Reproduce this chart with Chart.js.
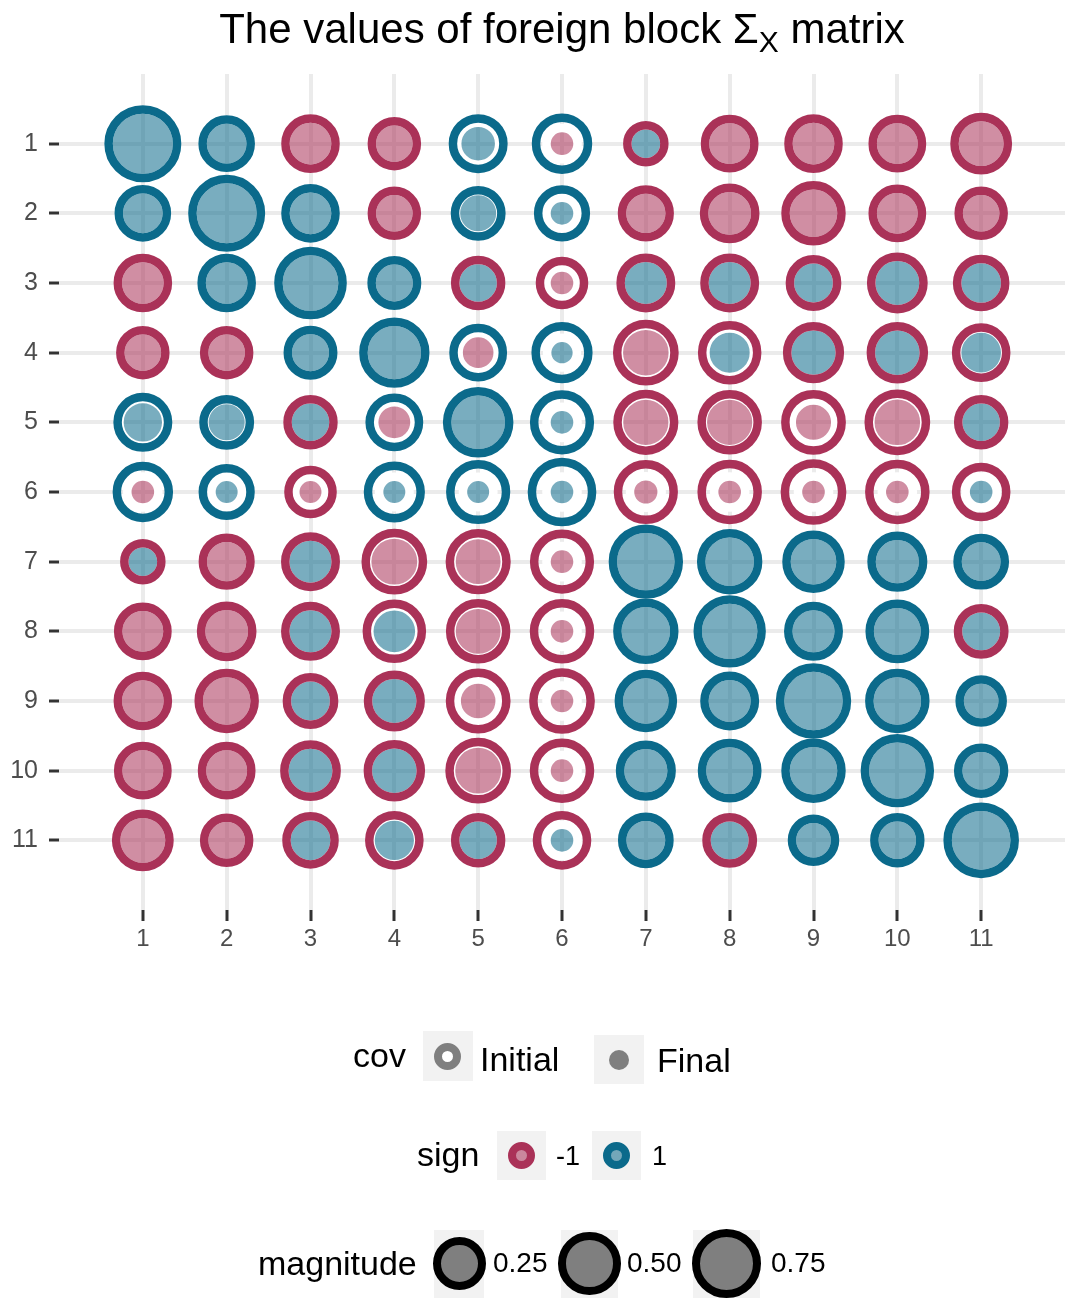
<!DOCTYPE html>
<html>
<head>
<meta charset="utf-8">
<title>Foreign block covariance</title>
<script src="https://cdn.jsdelivr.net/npm/chart.js@4.4.1/dist/chart.umd.min.js"></script>
<style>
  html, body { margin: 0; padding: 0; background: #ffffff; }
  body { width: 1065px; height: 1304px; position: relative; overflow: hidden;
         font-family: 'Liberation Sans', Arial, sans-serif; }
  #plot { position: absolute; left: 0; top: 0; }
  .txt { position: absolute; white-space: nowrap; line-height: 1; color: #000; }
  #title { position: absolute; left: 59px; width: 1006px; top: 8px; text-align: center;
           font-size: 42px; line-height: 42px; color: #000; }
  #title .sub { font-size: 30px; position: relative; top: 9px; }
  .key { position: absolute; background: #f2f2f2; }
  .dot { position: absolute; border-radius: 50%; box-sizing: border-box; }
</style>
</head>
<body>
<canvas id="plot" width="1065" height="1304"></canvas>
<div id="title">The values of foreign block Σ<span class="sub">X</span> matrix</div>
<div id="legend"></div>
<script>
// Row / column labels of the 11 x 11 block
const rowLabels = ['1', '2', '3', '4', '5', '6', '7', '8', '9', '10', '11'];
const colLabels = ['1', '2', '3', '4', '5', '6', '7', '8', '9', '10', '11'];

// Initial covariance: magnitude and sign
const initialMagnitude = [
  [1.00, 0.31, 0.36, 0.24, 0.37, 0.41, 0.10, 0.34, 0.36, 0.34, 0.45],
  [0.31, 1.00, 0.36, 0.24, 0.27, 0.30, 0.30, 0.39, 0.53, 0.34, 0.24],
  [0.36, 0.36, 0.82, 0.25, 0.26, 0.22, 0.37, 0.37, 0.29, 0.42, 0.31],
  [0.24, 0.24, 0.25, 0.73, 0.34, 0.43, 0.57, 0.50, 0.43, 0.44, 0.36],
  [0.37, 0.27, 0.26, 0.34, 0.74, 0.52, 0.55, 0.53, 0.54, 0.57, 0.26],
  [0.41, 0.30, 0.22, 0.43, 0.52, 0.67, 0.52, 0.53, 0.57, 0.53, 0.36],
  [0.10, 0.30, 0.37, 0.57, 0.55, 0.52, 0.89, 0.56, 0.47, 0.40, 0.29],
  [0.34, 0.39, 0.37, 0.50, 0.53, 0.53, 0.56, 0.81, 0.37, 0.51, 0.27],
  [0.36, 0.53, 0.29, 0.43, 0.54, 0.57, 0.47, 0.37, 0.93, 0.53, 0.20],
  [0.34, 0.34, 0.42, 0.44, 0.57, 0.53, 0.40, 0.51, 0.53, 0.85, 0.26],
  [0.45, 0.24, 0.31, 0.36, 0.26, 0.36, 0.29, 0.27, 0.20, 0.26, 0.94]
];
const initialSign = [
  [ 1,  1, -1, -1,  1,  1, -1, -1, -1, -1, -1],
  [ 1,  1,  1, -1,  1,  1, -1, -1, -1, -1, -1],
  [-1,  1,  1,  1, -1, -1, -1, -1, -1, -1, -1],
  [-1, -1,  1,  1,  1,  1, -1, -1, -1, -1, -1],
  [ 1,  1, -1,  1,  1,  1, -1, -1, -1, -1, -1],
  [ 1,  1, -1,  1,  1,  1, -1, -1, -1, -1, -1],
  [-1, -1, -1, -1, -1, -1,  1,  1,  1,  1,  1],
  [-1, -1, -1, -1, -1, -1,  1,  1,  1,  1, -1],
  [-1, -1, -1, -1, -1, -1,  1,  1,  1,  1,  1],
  [-1, -1, -1, -1, -1, -1,  1,  1,  1,  1,  1],
  [-1, -1, -1, -1, -1, -1,  1, -1,  1,  1,  1]
];

// Final covariance: magnitude and sign
const finalMagnitude = [
  [1.00, 0.31, 0.36, 0.24, 0.18, 0.035, 0.10, 0.34, 0.36, 0.34, 0.45],
  [0.31, 1.00, 0.36, 0.24, 0.23, 0.035, 0.30, 0.39, 0.53, 0.34, 0.24],
  [0.36, 0.36, 0.82, 0.25, 0.26, 0.035, 0.37, 0.37, 0.29, 0.42, 0.31],
  [0.24, 0.24, 0.25, 0.73, 0.13, 0.025, 0.47, 0.32, 0.43, 0.44, 0.31],
  [0.28, 0.23, 0.26, 0.15, 0.74, 0.035, 0.46, 0.46, 0.21, 0.47, 0.26],
  [0.035, 0.03, 0.03, 0.03, 0.03, 0.035, 0.04, 0.035, 0.035, 0.035, 0.035],
  [0.10, 0.30, 0.37, 0.48, 0.45, 0.035, 0.89, 0.56, 0.47, 0.40, 0.29],
  [0.34, 0.39, 0.37, 0.36, 0.45, 0.035, 0.56, 0.81, 0.37, 0.51, 0.27],
  [0.36, 0.53, 0.29, 0.43, 0.20, 0.035, 0.47, 0.37, 0.93, 0.53, 0.20],
  [0.34, 0.34, 0.42, 0.44, 0.48, 0.035, 0.40, 0.51, 0.53, 0.85, 0.26],
  [0.45, 0.24, 0.31, 0.30, 0.26, 0.035, 0.29, 0.27, 0.20, 0.26, 0.94]
];
const finalSign = [
  [ 1,  1, -1, -1,  1, -1,  1, -1, -1, -1, -1],
  [ 1,  1,  1, -1,  1,  1, -1, -1, -1, -1, -1],
  [-1,  1,  1,  1,  1, -1,  1,  1,  1,  1,  1],
  [-1, -1,  1,  1, -1,  1, -1,  1,  1,  1,  1],
  [ 1,  1,  1, -1,  1,  1, -1, -1, -1, -1,  1],
  [-1,  1, -1,  1,  1,  1, -1, -1, -1, -1,  1],
  [ 1, -1,  1, -1, -1, -1,  1,  1,  1,  1,  1],
  [-1, -1,  1,  1, -1, -1,  1,  1,  1,  1,  1],
  [-1, -1,  1,  1, -1, -1,  1,  1,  1,  1,  1],
  [-1, -1,  1,  1, -1, -1,  1,  1,  1,  1,  1],
  [-1, -1,  1,  1,  1,  1,  1,  1,  1,  1,  1]
];

// Legend entries
const covLevels = ['Initial', 'Final'];
const signLevels = [-1, 1];
const magnitudeBreaks = [0.25, 0.50, 0.75];

// Styling
const FONT = "'Liberation Sans', Arial, sans-serif";
const COLORS = { '-1': '#aa3258', '1': '#0b6a8b' };
const FILLS = { '-1': 'rgba(170, 50, 88, 0.55)', '1': 'rgba(11, 106, 139, 0.55)' };
const STROKE = 8.5;

// Magnitude -> inner disc diameter (square-root scale), then bubble radius
const discDiameter = m => 14 + 46 * Math.sqrt(m);
const bubbleRadius = m => (discDiameter(m) + STROKE) / 2;

const ringPoints = [];
const finalPoints = [];
rowLabels.forEach((_, i) => {
  colLabels.forEach((_, j) => {
    ringPoints.push({ x: j + 1, y: i + 1, r: bubbleRadius(initialMagnitude[i][j]), sign: initialSign[i][j] });
    finalPoints.push({ x: j + 1, y: i + 1, r: bubbleRadius(finalMagnitude[i][j]), sign: finalSign[i][j] });
  });
});

Chart.defaults.font.family = FONT;

new Chart(document.getElementById('plot'), {
  type: 'bubble',
  data: {
    datasets: [
      {
        // rings: initial value, drawn on top
        label: 'Initial',
        order: 0,
        data: ringPoints,
        backgroundColor: 'rgba(0,0,0,0)',
        borderColor: ctx => COLORS[String(ctx.raw.sign)],
        borderWidth: STROKE,
        clip: false
      },
      {
        // translucent discs with a white halo: final value, drawn underneath
        label: 'Final',
        order: 1,
        data: finalPoints,
        backgroundColor: ctx => FILLS[String(ctx.raw.sign)],
        borderColor: '#ffffff',
        borderWidth: STROKE,
        clip: false
      }
    ]
  },
  options: {
    responsive: false,
    devicePixelRatio: 1,
    animation: false,
    events: [],
    layout: { autoPadding: false, padding: { top: 74, right: 0, bottom: 354, left: 0 } },
    plugins: { legend: { display: false }, tooltip: { enabled: false }, title: { display: false } },
    scales: {
      x: {
        type: 'linear',
        position: 'bottom',
        min: 0,
        max: 12,
        afterBuildTicks: s => { s.ticks = colLabels.map((_, i) => ({ value: i + 1 })); },
        afterFit: s => { s.height = 40; },
        ticks: {
          callback: (v, i) => colLabels[i],
          color: '#4d4d4d',
          font: { size: 24 },
          padding: 4,
          autoSkip: false,
          maxRotation: 0
        },
        grid: { color: '#ebebeb', lineWidth: 4, tickColor: '#333333', tickWidth: 3, tickLength: 11 },
        border: { display: false }
      },
      y: {
        type: 'linear',
        position: 'left',
        reverse: true,
        min: 0,
        max: 12,
        afterBuildTicks: s => { s.ticks = rowLabels.map((_, i) => ({ value: i + 1 })); },
        afterFit: s => { s.width = 59; },
        ticks: {
          callback: (v, i) => rowLabels[i],
          color: '#4d4d4d',
          font: { size: 25 },
          padding: 11,
          autoSkip: false
        },
        grid: { color: '#ebebeb', lineWidth: 4, tickColor: '#333333', tickWidth: 3, tickLength: 10 },
        border: { display: false }
      }
    }
  }
});

// ---- legend ----
const legend = document.getElementById('legend');
function addText(text, left, baseline, size) {
  const el = document.createElement('div');
  el.className = 'txt';
  el.textContent = text;
  el.style.fontSize = size + 'px';
  el.style.left = left + 'px';
  el.style.top = (baseline - 0.8465 * size) + 'px';
  legend.appendChild(el);
}
function addKey(left, top, w, h) {
  const el = document.createElement('div');
  el.className = 'key';
  Object.assign(el.style, { left: left + 'px', top: top + 'px', width: w + 'px', height: h + 'px' });
  legend.appendChild(el);
}
function addDot(cx, cy, diameter, border, borderColor, fill) {
  const el = document.createElement('div');
  el.className = 'dot';
  Object.assign(el.style, {
    left: (cx - diameter / 2) + 'px', top: (cy - diameter / 2) + 'px',
    width: diameter + 'px', height: diameter + 'px',
    border: border + 'px solid ' + borderColor, background: fill
  });
  legend.appendChild(el);
}

// cov
addText('cov', 353, 1067, 34);
addKey(423, 1031, 50, 50);
addDot(447.5, 1056, 27, 8, '#7f7f7f', '#ffffff');
addText(covLevels[0], 480, 1071, 34);
addKey(594, 1035, 50, 49);
addDot(619, 1059.5, 20, 0, '#7f7f7f', '#7f7f7f');
addText(covLevels[1], 657, 1072, 34);

// sign
addText('sign', 417, 1166, 34);
const signKeyLeft = [497, 592];
const signTextLeft = [556, 652];
signLevels.forEach((s, k) => {
  addKey(signKeyLeft[k], 1131, 49, 49);
  addDot(signKeyLeft[k] + 24.5, 1155.5, 27, 8.5, COLORS[String(s)], FILLS[String(s)]);
  addText(String(s), signTextLeft[k], 1166, 27);
});

// magnitude
addText('magnitude', 258, 1275, 34);
const magKeyLeft = [434, 561, 693];
const magKeyWidth = [50, 57, 67];
const magTextLeft = [493, 627, 771];
magnitudeBreaks.forEach((m, k) => {
  addKey(magKeyLeft[k], 1230, magKeyWidth[k], 68);
  addDot(magKeyLeft[k] + magKeyWidth[k] / 2, 1263.5, discDiameter(m) + 2 * 8, 8, '#000000', '#7f7f7f');
  addText(m.toFixed(2), magTextLeft[k], 1273, 28);
});
</script>
</body>
</html>
